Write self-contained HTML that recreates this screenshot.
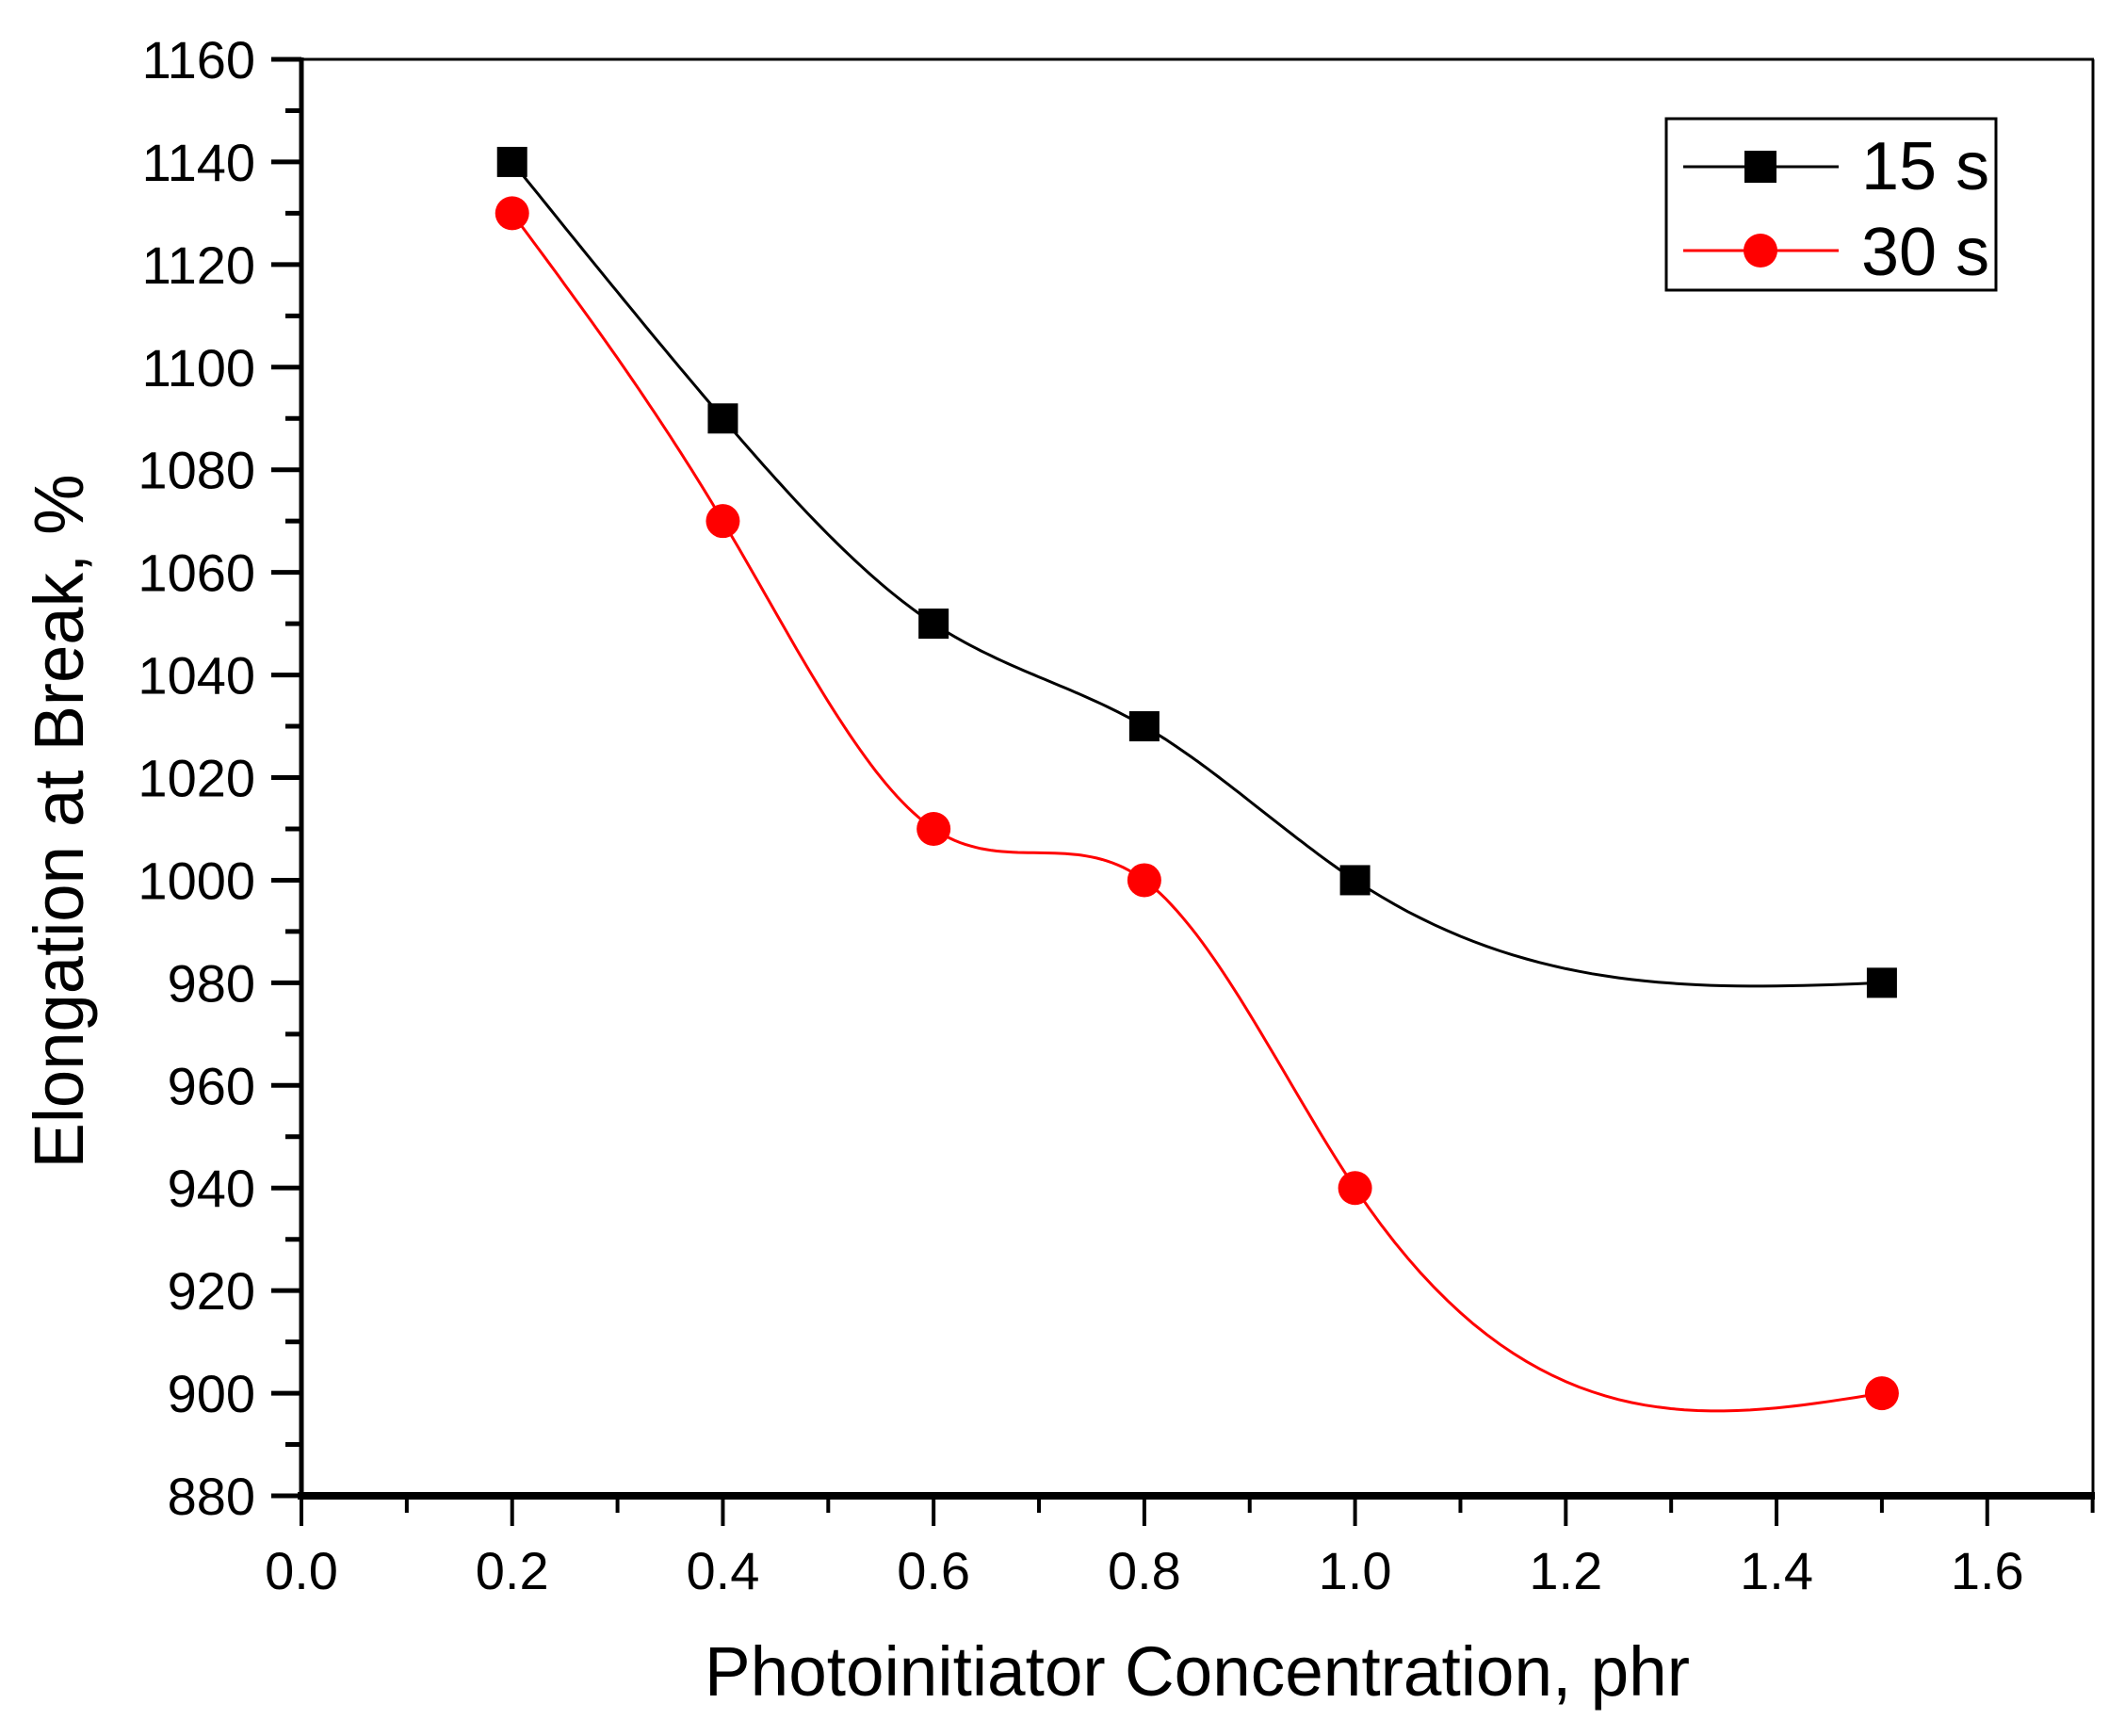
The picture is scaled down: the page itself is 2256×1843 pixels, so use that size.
<!DOCTYPE html>
<html><head><meta charset="utf-8"><style>
html,body{margin:0;padding:0;background:#fff;}
svg{display:block;}
text{font-family:"Liberation Sans",Arial,sans-serif;fill:#000;}
</style></head><body>
<svg id="s" width="2256" height="1843" viewBox="0 0 2256 1843" xmlns="http://www.w3.org/2000/svg">
<rect width="2256" height="1843" fill="#fff"/>
<g id="ticks"></g>
<line x1="320" y1="63" x2="2223" y2="63" stroke="#000" stroke-width="3"/>
<line x1="2222" y1="63" x2="2222" y2="1588" stroke="#000" stroke-width="3"/>
<line x1="320" y1="61" x2="320" y2="1592" stroke="#000" stroke-width="5"/>
<line x1="316" y1="1588" x2="2224" y2="1588" stroke="#000" stroke-width="8"/>
<g font-size="56" text-anchor="end" id="ylab"></g>
<g font-size="56" text-anchor="middle" id="xlab"></g>
<path id="p1" fill="none" stroke="#000" stroke-width="3"/>
<path id="p2" fill="none" stroke="#f00" stroke-width="3"/>
<g id="m"></g>
<text x="1271" y="1800" font-size="74" text-anchor="middle" textLength="1046" lengthAdjust="spacingAndGlyphs">Photoinitiator Concentration, phr</text>
<text transform="translate(88,872) rotate(-90)" font-size="74" text-anchor="middle" textLength="737" lengthAdjust="spacingAndGlyphs">Elongation at Break, %</text>
<rect x="1769" y="126" width="350" height="182" fill="#fff" stroke="#000" stroke-width="3"/>
<line x1="1787" y1="177" x2="1952" y2="177" stroke="#000" stroke-width="3"/>
<rect x="1852" y="160" width="34" height="34" fill="#000"/>
<line x1="1787" y1="266" x2="1952" y2="266" stroke="#f00" stroke-width="3"/>
<circle cx="1869" cy="266" r="18" fill="#f00"/>
<text x="1976" y="201" font-size="72">15 s</text>
<text x="1976" y="292" font-size="72">30 s</text>
</svg>
<script>
var NS="http://www.w3.org/2000/svg";
function X(v){return 320+v*1118.6;}
function Y(v){return 63+(1160-v)/20*108.93;}
function el(t,a,p){var e=document.createElementNS(NS,t);for(var k in a)e.setAttribute(k,a[k]);document.getElementById(p).appendChild(e);return e;}
for(var v=880;v<=1160;v+=10){var y=Y(v),maj=(v%20==0);el('line',{x1:maj?288:303,y1:y,x2:320,y2:y,stroke:'#000','stroke-width':5},'ticks');
 if(maj){var t=el('text',{x:271,y:y+20},'ylab');t.textContent=v;}}
for(var i=0;i<=17;i++){var x=X(i/10),maj=(i%2==0);el('line',{x1:x,y1:1588,x2:x,y2:maj?1620:1606,stroke:'#000','stroke-width':4},'ticks');
 if(maj){var t=el('text',{x:x,y:1687},'xlab');t.textContent=(i/10).toFixed(1);}}
var xs=[0.2,0.4,0.6,0.8,1.0,1.5];
var a=[1140,1090,1050,1030,1000,980],b=[1130,1070,1010,1000,940,900];
function spline(x,y){var n=x.length,h=[],al=[],l=[1],mu=[0],z=[0],c=[],bb=[],d=[];
 for(var i=0;i<n-1;i++)h[i]=x[i+1]-x[i];
 for(i=1;i<n-1;i++)al[i]=3/h[i]*(y[i+1]-y[i])-3/h[i-1]*(y[i]-y[i-1]);
 for(i=1;i<n-1;i++){l[i]=2*(x[i+1]-x[i-1])-h[i-1]*mu[i-1];mu[i]=h[i]/l[i];z[i]=(al[i]-h[i-1]*z[i-1])/l[i];}
 c[n-1]=0;for(i=n-2;i>=0;i--){c[i]=(i>0?z[i]:0)-mu[i]*c[i+1];bb[i]=(y[i+1]-y[i])/h[i]-h[i]*(c[i+1]+2*c[i])/3;d[i]=(c[i+1]-c[i])/(3*h[i]);}
 var s='';for(i=0;i<n-1;i++){for(var k=0;k<=40;k++){var t=h[i]*k/40,v=y[i]+bb[i]*t+c[i]*t*t+d[i]*t*t*t;s+=(s?'L':'M')+X(x[i]+t).toFixed(1)+','+Y(v).toFixed(1);}}return s;}
document.getElementById('p1').setAttribute('d',spline(xs,a));
document.getElementById('p2').setAttribute('d',spline(xs,b));
for(var i=0;i<6;i++){el('rect',{x:X(xs[i])-16,y:Y(a[i])-16,width:32,height:32,fill:'#000'},'m');
 el('circle',{cx:X(xs[i]),cy:Y(b[i]),r:18,fill:'#f00'},'m');}
</script>
</body></html>
